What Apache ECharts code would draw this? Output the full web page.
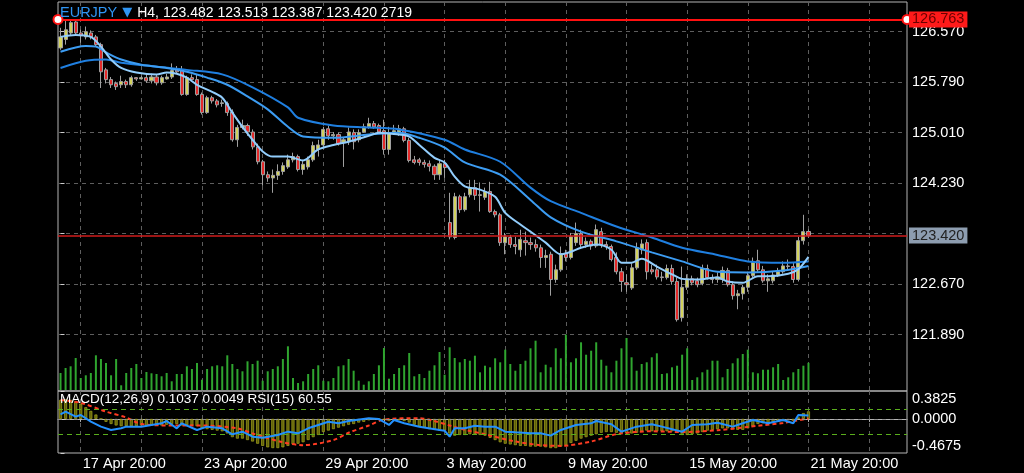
<!DOCTYPE html>
<html><head><meta charset="utf-8">
<script src="https://cdn.jsdelivr.net/npm/echarts@6/dist/echarts.min.js"></script>
<style>html,body{margin:0;padding:0;background:#000;}#chart{width:1024px;height:473px;}</style>
</head><body><div id="chart"></div>
<script>
// ---------- DATA ----------
const headerSymbol = 'EURJPY';
const headerTimeframe = 'H4';
const lastQuote = [123.482, 123.513, 123.387, 123.420]; // O H L C
const lastVolume = 2719;
const alertLevel = 126.763;
const currentPrice = 123.420;
const macdTitle = 'MACD(12,26,9)';
const macdLast = [0.1037, 0.0049];
const rsiTitle = 'RSI(15)';
const rsiLast = 60.55;

const slotCount = 168; // bar slots on the time axis (incl. empty space on the right)
const xLabelBars = [4, 28, 52, 76, 100, 124, 148];
const xLabelTexts = ['17 Apr 20:00', '23 Apr 20:00', '29 Apr 20:00', '3 May 20:00', '9 May 20:00', '15 May 20:00', '21 May 20:00'];
const xGridBars = [4, 16, 28, 40, 52, 64, 76, 88, 100, 112, 124, 136, 148, 160];
const priceTicks = [121.89, 122.67, 123.45, 124.23, 125.01, 125.79, 126.57];
const priceLabels = [121.89, 122.67, 124.23, 125.01, 125.79, 126.57];
const macdLabels = [-0.4675, 0, 0.3825];
const rsiLevels = [70, 30];

// candles: [open, close, low, high]
const candles = [
[126.32,126.49,126.29,126.63],[126.45,126.60,126.37,126.76],[126.55,126.71,126.52,126.76],[126.72,126.55,126.52,126.76],
[126.55,126.51,126.40,126.60],[126.49,126.57,126.45,126.65],[126.55,126.49,126.45,126.59],[126.49,126.37,126.34,126.52],
[126.37,125.95,125.70,126.40],[125.98,125.83,125.77,126.01],[125.83,125.75,125.70,125.87],[125.77,125.72,125.67,125.80],
[125.75,125.80,125.70,125.89],[125.80,125.75,125.70,125.83],[125.75,125.86,125.72,125.89],[125.86,125.84,125.81,125.87],
[125.84,125.86,125.83,125.89],[125.86,125.81,125.78,125.91],[125.81,125.87,125.77,125.92],[125.87,125.78,125.74,125.91],
[125.78,125.86,125.75,125.89],[125.84,125.87,125.83,125.92],[125.87,125.97,125.84,126.08],[125.98,125.95,125.92,126.04],
[125.98,125.60,125.58,126.04],[125.60,125.86,125.58,125.89],[125.86,125.83,125.80,125.91],[125.83,125.60,125.58,125.91],
[125.60,125.32,125.29,125.63],[125.32,125.55,125.30,125.58],[125.55,125.50,125.46,125.58],[125.50,125.44,125.40,125.53],
[125.46,125.47,125.41,125.52],[125.46,125.32,125.27,125.49],[125.33,124.90,124.87,125.37],[124.90,125.09,124.79,125.13],
[125.09,125.12,125.06,125.21],[125.12,125.02,124.96,125.15],[125.02,124.79,124.75,125.06],[124.79,124.56,124.52,124.84],
[124.56,124.36,124.19,124.59],[124.36,124.31,124.25,124.41],[124.31,124.35,124.08,124.44],[124.35,124.41,124.28,124.52],
[124.41,124.50,124.36,124.55],[124.48,124.59,124.45,124.67],[124.59,124.64,124.55,124.70],[124.64,124.44,124.41,124.67],
[124.44,124.52,124.36,124.59],[124.48,124.59,124.44,124.64],[124.59,124.81,124.56,124.87],[124.75,124.82,124.64,124.90],
[124.82,125.06,124.78,125.10],[125.07,124.96,124.90,125.12],[124.96,124.98,124.90,125.02],[124.98,124.84,124.81,125.01],
[124.86,124.90,124.48,124.93],[124.87,125.02,124.82,125.09],[125.01,124.87,124.75,125.06],[124.90,125.01,124.86,125.06],
[125.02,125.10,125.01,125.15],[125.10,125.15,125.07,125.24],[125.15,125.10,125.07,125.19],[125.12,125.02,124.99,125.15],
[125.04,124.75,124.67,125.21],[124.75,125.01,124.67,125.10],[125.01,125.04,124.98,125.13],[125.01,125.07,124.96,125.13],
[125.07,124.89,124.86,125.10],[124.89,124.58,124.55,124.93],[124.59,124.55,124.52,124.65],[124.59,124.55,124.50,124.62],
[124.55,124.52,124.47,124.59],[124.53,124.49,124.41,124.58],[124.49,124.36,124.28,124.52],[124.36,124.53,124.28,124.59],
[124.53,124.47,124.31,124.59],[123.62,123.40,123.36,124.08],[123.39,124.02,123.36,124.08],[124.02,123.82,123.77,124.05],
[123.82,124.02,123.79,124.08],[124.05,124.16,124.01,124.28],[124.16,124.04,123.97,124.28],[124.04,124.05,123.79,124.24],
[124.01,124.10,123.97,124.16],[124.10,123.79,123.77,124.25],[123.79,123.74,123.70,123.82],[123.74,123.31,123.26,123.77],
[123.31,123.40,123.13,123.46],[123.39,123.28,123.23,123.43],[123.28,123.25,123.13,123.40],[123.20,123.36,123.09,123.51],
[123.34,123.31,123.11,123.48],[123.31,123.28,123.20,123.39],[123.28,123.23,123.17,123.36],[123.23,123.08,122.92,123.28],
[123.08,123.11,122.92,123.20],[123.13,122.74,122.49,123.17],[122.74,122.89,122.69,122.97],[122.89,123.14,122.86,123.25],
[123.14,123.08,123.02,123.20],[123.08,123.40,123.05,123.46],[123.31,123.45,123.26,123.62],[123.45,123.28,123.23,123.51],
[123.28,123.33,123.23,123.39],[123.33,123.26,123.20,123.36],[123.26,123.51,123.23,123.59],[123.48,123.28,123.23,123.54],
[123.28,123.25,123.20,123.33],[123.25,123.05,123.02,123.28],[123.08,122.86,122.82,123.16],[122.86,122.71,122.55,122.92],
[122.69,122.66,122.55,122.82],[122.61,122.92,122.58,122.99],[122.92,123.23,122.89,123.31],[123.20,123.29,123.13,123.36],
[123.31,122.86,122.74,123.36],[122.89,122.86,122.82,122.97],[122.89,122.78,122.74,122.97],[122.78,122.77,122.71,122.86],
[122.77,122.91,122.74,122.97],[122.91,122.71,122.66,122.97],[122.71,122.12,122.09,122.77],[122.15,122.62,122.09,122.94],
[122.62,122.75,122.58,122.82],[122.75,122.69,122.65,122.80],[122.72,122.66,122.62,122.77],[122.68,122.91,122.65,122.97],
[122.91,122.77,122.74,122.97],[122.77,122.74,122.68,122.82],[122.74,122.78,122.69,122.85],[122.74,122.88,122.69,122.94],
[122.88,122.66,122.63,122.92],[122.66,122.49,122.43,122.71],[122.49,122.52,122.28,122.58],[122.52,122.62,122.43,122.66],
[122.62,122.80,122.55,122.86],[122.80,123.02,122.77,123.08],[123.03,122.89,122.86,123.20],[122.89,122.72,122.69,122.95],
[122.72,122.75,122.55,122.82],[122.72,122.81,122.68,122.86],[122.81,122.86,122.78,122.92],[122.86,122.95,122.83,123.02],
[122.95,122.94,122.89,123.05],[122.94,122.74,122.69,123.00],[122.74,123.34,122.71,123.40],[123.34,123.48,123.28,123.74],
[123.482,123.420,123.387,123.513]
];

const volumes = [
1700,2200,2370,3200,1200,1470,1700,3470,3100,2700,1470,3100,470,1700,2200,2600,1200,1800,1670,1600,
1370,1700,870,1600,1600,2370,2100,2700,1030,2100,2370,2470,2370,3470,2600,2100,1870,2870,2600,2930,
930,1870,2100,2370,3100,4370,1200,700,870,1600,2100,2470,930,870,1200,2370,2470,3100,1930,930,
530,870,1600,2470,4200,1130,1600,2200,2470,3700,1370,1600,1200,1930,2470,3800,1530,4270,3200,
2770,3100,2930,3430,1770,2430,2270,3170,2770,4030,2600,1930,2600,2930,4170,4930,1770,2530,2270,4170,
3170,5530,2770,3170,4770,3530,3930,4770,3030,2430,1770,2930,4170,5200,3270,1930,2600,2770,3270,3670,
1600,1670,2270,2430,3530,4170,1000,1270,1770,2030,2930,2930,1270,2100,2670,3170,3600,4030,1770,1670,
2030,2030,2270,2600,1000,1270,1770,2100,2430,2719
];

const fastMA = [[0,126.49],[3,126.52],[6,126.49],[8,126.34],[10,126.14],[12,126.01],[15,125.94],[19,125.91],[21,125.94],[23,125.92],[25,125.86],[27,125.75],[30,125.64],[32,125.55],[34,125.32],[36,125.10],[38,124.90],[40,124.72],[42,124.64],[45,124.64],[48,124.58],[51,124.75],[54,124.82],[57,124.87],[61,124.96],[63,125.01],[67,124.98],[69,124.95],[71,124.82],[74,124.62],[76,124.55],[78,124.33],[80,124.18],[83,124.13],[86,124.02],[88,123.77],[91,123.59],[93,123.48],[96,123.31],[99,123.13],[101,123.17],[103,123.23],[106,123.28],[109,123.20],[111,123.00],[113,123.00],[115,123.06],[118,122.94],[121,122.82],[123,122.75],[126,122.74],[130,122.77],[132,122.71],[135,122.69],[138,122.79],[140,122.79],[144,122.83],[146,122.90],[148,123.09]];
const midMA = [[0,126.26],[5,126.35],[7,126.34],[9,126.25],[12,126.14],[16,126.06],[21,126.01],[25,125.95],[29,125.86],[33,125.75],[37,125.57],[41,125.37],[45,125.10],[48,124.95],[54,124.93],[61,124.98],[67,125.01],[71,124.93],[76,124.78],[80,124.55],[87,124.36],[93,123.97],[97,123.70],[103,123.48],[110,123.33],[117,123.16],[123,123.02],[130,122.86],[136,122.85],[143,122.88],[148,122.95]];
const slowMA = [[0,126.01],[5,126.12],[9,126.14],[12,126.09],[19,126.03],[25,125.98],[32,125.91],[38,125.71],[45,125.40],[47,125.24],[54,125.12],[61,125.09],[67,125.06],[76,124.90],[80,124.75],[87,124.56],[93,124.16],[97,123.95],[103,123.77],[110,123.56],[117,123.39],[123,123.23],[130,123.12],[136,123.02],[143,123.00],[148,123.02]];

const macdHist = [
0.26,0.27,0.26,0.24,0.21,0.16,0.11,0.06,0.0,-0.04,-0.07,
-0.09,-0.10,-0.10,-0.10,-0.10,-0.09,-0.09,-0.09,-0.09,
-0.09,-0.08,-0.07,-0.07,-0.09,-0.09,-0.09,-0.10,-0.13,-0.14,-0.15,-0.16,
-0.17,-0.20,-0.25,-0.27,-0.27,-0.29,-0.31,-0.34,-0.37,
-0.39,-0.40,-0.40,-0.39,-0.37,-0.35,-0.34,
-0.32,-0.29,-0.25,-0.22,-0.18,-0.16,-0.14,
-0.12,-0.10,-0.08,-0.07,-0.05,-0.04,-0.02,-0.01,0.0,-0.01,
-0.03,-0.02,-0.02,-0.03,-0.05,-0.08,-0.10,-0.12,
-0.14,-0.15,-0.16,-0.16,-0.20,
-0.23,-0.22,-0.22,-0.21,-0.21,-0.22,-0.23,
-0.26,-0.29,-0.32,-0.34,-0.35,-0.36,-0.37,-0.37,-0.38,-0.38,-0.38,-0.39,-0.40,
-0.40,-0.38,-0.36,-0.33,-0.30,-0.27,
-0.25,-0.23,-0.21,-0.19,-0.18,-0.18,-0.19,-0.20,
-0.20,-0.20,-0.19,-0.17,-0.16,-0.17,-0.17,-0.17,-0.17,-0.17,-0.18,-0.22,
-0.22,-0.21,-0.20,-0.18,-0.16,-0.15,-0.14,-0.13,-0.13,-0.14,-0.15,
-0.15,-0.13,-0.10,-0.07,-0.06,-0.06,-0.05,-0.04,-0.03,
-0.02,-0.03,0.02,0.08,0.1037
];
const macdSignal = [[0,0.26],[4,0.22],[9,0.10],[13,0.02],[16,-0.07],[22,-0.09],[28,-0.09],[35,-0.13],[38,-0.20],[44,-0.32],[48,-0.36],[54,-0.29],[57,-0.19],[61,-0.09],[64,-0.01],[71,0.01],[74,-0.03],[77,-0.09],[80,-0.15],[84,-0.21],[90,-0.31],[95,-0.36],[99,-0.37],[105,-0.31],[110,-0.21],[117,-0.17],[123,-0.18],[130,-0.155],[136,-0.11],[143,-0.055],[148,0.0049]];
const rsi = [[0,62.4],[1,66.6],[3,58.6],[4,61.3],[6,50.5],[8,42.5],[10,37.1],[12,39.8],[13,42.5],[16,42.5],[18,45.2],[20,47.9],[21,51.6],[23,39.8],[24,47.9],[27,37.1],[29,42.5],[32,39.8],[34,30.1],[36,34.4],[38,26.3],[40,24.7],[43,29.0],[45,34.4],[47,31.7],[49,39.8],[51,45.2],[53,50.5],[55,47.9],[57,51.6],[61,56.0],[63,54.8],[65,45.2],[66,53.2],[68,47.9],[71,42.5],[75,37.1],[76,36.0],[77,26.3],[78,39.8],[80,39.8],[82,44.0],[84,42.5],[86,42.5],[88,34.4],[90,33.3],[93,31.7],[95,31.7],[97,28.0],[99,37.1],[102,45.2],[105,47.9],[106,51.6],[109,46.3],[111,34.4],[114,42.5],[117,46.3],[119,42.5],[123,34.4],[125,45.2],[128,46.3],[130,48.9],[133,42.5],[135,47.9],[137,53.2],[140,47.9],[143,53.2],[145,47.9],[146,61.3],[148,60.55]];

// ---------- CHART ----------
const FONT = 'Liberation Sans, Arial, Helvetica, sans-serif';
const slots = Array.from({length: slotCount}, (_, i) => i);
const gridDash = {color: '#5e5e5e', type: [4, 4], width: 1};
const frame = '#b4b4b4';

const chart = echarts.init(document.getElementById('chart'), null, {renderer: 'canvas'});
const option = {
  backgroundColor: '#000',
  animation: false,
  textStyle: {fontFamily: FONT},
  title: [
    {left: 60, top: 4, padding: 0,
     text: '{a|' + headerSymbol + '} {t|▼} {b|' + headerTimeframe + ', ' + lastQuote.map(v => v.toFixed(3)).join(' ') + ' ' + lastVolume + '}',
     textStyle: {rich: {
       a: {color: '#2f95f3', fontSize: 14.5, fontFamily: FONT, fontWeight: 'normal'},
       t: {color: '#2f95f3', fontSize: 13, fontFamily: 'DejaVu Sans'},
       b: {color: '#ffffff', fontSize: 14, fontFamily: FONT, fontWeight: 'normal'}}}},
    {left: 60, top: 392, padding: 0,
     text: macdTitle + ' ' + macdLast[0].toFixed(4) + ' ' + macdLast[1].toFixed(4) + ' ' + rsiTitle + ' ' + rsiLast.toFixed(2),
     textStyle: {color: '#ffffff', fontSize: 13.5, fontWeight: 'normal', fontFamily: FONT}}
  ],
  grid: [
    {left: 58, right: 117, top: 2, height: 389, show: true, borderColor: frame, borderWidth: 1},
    {left: 58, right: 117, top: 330, height: 60},
    {left: 58, right: 117, top: 391, height: 62, show: true, borderColor: frame, borderWidth: 1}
  ],
  xAxis: [
    {type: 'value', gridIndex: 0, position: 'bottom', min: -0.5, max: slotCount - 0.5,
     axisLine: {show: false}, axisTick: {show: false, customValues: xGridBars}, axisLabel: {show: false},
     splitLine: {show: true, lineStyle: gridDash}},
    {type: 'category', gridIndex: 0, position: 'top', data: slots, show: false},
    {type: 'category', gridIndex: 1, position: 'bottom', data: slots, show: false},
    {type: 'value', gridIndex: 2, position: 'bottom', min: -0.5, max: slotCount - 0.5,
     axisLine: {show: true, lineStyle: {color: frame}},
     axisTick: {show: true, length: 3, customValues: xGridBars, lineStyle: {color: frame}},
     axisLabel: {customValues: xLabelBars, formatter: v => xLabelTexts[xLabelBars.indexOf(Math.round(v))] || '',
                 color: '#ffffff', fontSize: 14.5, align: 'left', margin: 3, padding: [0, 0, 0, 2], fontFamily: FONT},
     splitLine: {show: true, lineStyle: gridDash}},
    {type: 'category', gridIndex: 2, position: 'top', data: slots, show: false}
  ],
  yAxis: [
    {type: 'value', gridIndex: 0, position: 'right', min: 121.017, max: 127.029,
     axisLine: {show: false},
     axisTick: {show: true, length: 4, customValues: priceTicks, lineStyle: {color: '#cccccc'}},
     axisLabel: {customValues: priceLabels, formatter: v => v.toFixed(3), color: '#ffffff', fontSize: 14.5, margin: 5, fontFamily: FONT},
     splitLine: {show: true, lineStyle: gridDash}},
    {type: 'value', gridIndex: 1, min: 0, max: 6000, show: false},
    {type: 'value', gridIndex: 2, position: 'right', min: -0.4675, max: 0.3825,
     axisLine: {show: false},
     axisTick: {show: true, length: 4, customValues: macdLabels, lineStyle: {color: '#cccccc'}},
     axisLabel: {customValues: macdLabels, formatter: v => v.toFixed(4), color: '#ffffff', fontSize: 14.5, margin: 5, fontFamily: FONT,
                 verticalAlignMinLabel: 'bottom', verticalAlignMaxLabel: 'top'},
     splitLine: {show: false}},
    {type: 'value', gridIndex: 2, min: 0, max: 100, show: false}
  ],
  series: [
    {type: 'bar', name: 'volume', xAxisIndex: 2, yAxisIndex: 1, data: volumes, barWidth: 2,
     itemStyle: {color: '#2fa52f'}, silent: true},
    {type: 'candlestick', name: 'price', xAxisIndex: 1, yAxisIndex: 0, data: candles, barWidth: 3.6,
     itemStyle: {color: '#d2d25e', color0: '#e42a2a', borderColor: '#a0a0a0', borderColor0: '#a0a0a0', borderWidth: 1},
     markLine: {silent: true, animation: false, symbol: ['emptyCircle', 'emptyCircle'], symbolSize: 9,
       data: [{yAxis: alertLevel,
               lineStyle: {color: '#ff1010', width: 2, type: 'solid'},
               label: {show: true, position: 'end', distance: 2, formatter: alertLevel.toFixed(3),
                       backgroundColor: '#ff1a1a', color: '#6a0000', fontSize: 14.5, padding: [1, 3, 0, 3], fontFamily: FONT}}]}},
    {type: 'line', name: 'slow', xAxisIndex: 1, yAxisIndex: 0, data: slowMA, smooth: 0.3, showSymbol: false,
     lineStyle: {color: '#1f7fe0', width: 2}, z: 3},
    {type: 'line', name: 'mid', xAxisIndex: 1, yAxisIndex: 0, data: midMA, smooth: 0.3, showSymbol: false,
     lineStyle: {color: '#3c9cf2', width: 2}, z: 3},
    {type: 'line', name: 'fast', xAxisIndex: 1, yAxisIndex: 0, data: fastMA, smooth: 0.3, showSymbol: false,
     lineStyle: {color: '#92cdfc', width: 2}, z: 3,
     markLine: {silent: true, animation: false, symbol: 'none',
       data: [{yAxis: currentPrice,
               lineStyle: {color: '#d01c1c', width: 1.5, type: 'solid'},
               label: {show: true, position: 'end', distance: 2, formatter: currentPrice.toFixed(3),
                       backgroundColor: '#8d9db0', color: '#222222', fontSize: 14.5, padding: [1, 3, 0, 3], fontFamily: FONT}}]}},
    {type: 'bar', name: 'macd', xAxisIndex: 4, yAxisIndex: 2, data: macdHist, barWidth: 3,
     itemStyle: {color: '#5f5f0a', borderColor: '#a6a61c', borderWidth: 0.7},
     markLine: {silent: true, animation: false, symbol: 'none', label: {show: false},
       data: [{yAxis: 0, lineStyle: {color: '#909090', type: [4, 4], width: 1}}]}},
    {type: 'line', name: 'rsiLevels', xAxisIndex: 4, yAxisIndex: 3, data: [],
     markLine: {silent: true, animation: false, symbol: 'none', label: {show: false},
       data: rsiLevels.map(v => ({yAxis: v, lineStyle: {color: '#5aae1c', type: [5, 4], width: 1.2}}))}},
    {type: 'line', name: 'signal', xAxisIndex: 4, yAxisIndex: 2, data: macdSignal, smooth: 0.3, showSymbol: false,
     lineStyle: {color: '#ff3b22', width: 2, type: [4, 3]}, z: 4},
    {type: 'line', name: 'rsi', xAxisIndex: 4, yAxisIndex: 3, data: rsi, showSymbol: false,
     lineStyle: {color: '#2391ff', width: 2}, z: 5}
  ]
};
chart.setOption(option);
</script>
</body></html>
